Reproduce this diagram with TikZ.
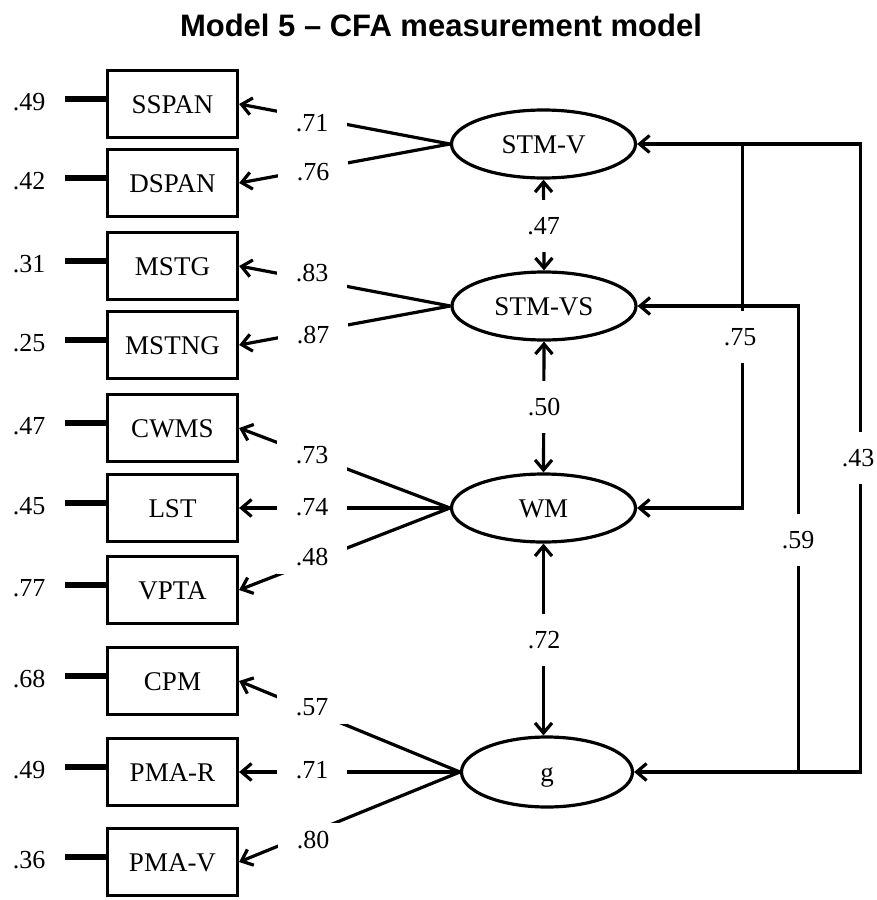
\documentclass[tikz,border=0pt]{standalone}
\usepackage{fontspec}
\setmainfont{Liberation Serif}
\newfontfamily\titlefont{Liberation Sans}
\usetikzlibrary{arrows.meta,shapes.geometric}
\begin{document}
\begin{tikzpicture}[x=1pt,y=-1pt,
  >={Straight Barb[length=10pt,width=17pt]},
  obs/.style={draw,line width=3.2pt,minimum width=130pt,minimum height=67pt,inner sep=0pt,
    font=\fontsize{27}{27}\selectfont,text height=18pt,text depth=0pt},
  lat/.style={draw,ellipse,line width=3.2pt,minimum width=184pt,minimum height=68pt,inner sep=0pt,
    font=\fontsize{27}{27}\selectfont,text height=18pt,text depth=0pt},
  num/.style={inner sep=0pt,font=\fontsize{26}{26}\selectfont,text height=17.5pt,text depth=0pt},
  lbl/.style={num,fill=white,minimum width=70pt,minimum height=34pt},
  vlbl/.style={num,fill=white,minimum width=36pt,minimum height=52pt},
  conn/.style={line width=3.2pt},
  resid/.style={line width=5.5pt}]
\useasboundingbox (0,0) rectangle (876,900);

% title
\node[font=\titlefont\bfseries\fontsize{31}{31}\selectfont,inner sep=0pt] (title) at (441,25) {Model 5 – CFA measurement model};

% observed variables with residuals
\foreach \n/\t/\y/\r in {sspan/SSPAN/104/.49, dspan/DSPAN/183/.42, mstg/MSTG/266/.31, mstng/MSTNG/345/.25,
  cwms/CWMS/428/.47, lst/LST/508/.45, vpta/VPTA/590/.77, cpm/CPM/681/.68, pmar/PMA-R/772/.49, pmav/PMA-V/862/.36} {
  \node[obs] (\n) at (172.5,\y) {\t};
  \node[num] (e-\n) at (29,\y-2) {\r};
  \draw[resid] ([yshift=5pt]\n.west) -- ++(-41,0);
}

% latent variables
\node[lat] (stmv)  at (543.5,144) {STM-V};
\node[lat] (stmvs) at (544,306) {STM-VS};
\node[lat] (wm)    at (543.5,508) {WM};
\node[lat,minimum width=171pt,minimum height=70pt] (g) at (547,772) {g};

% loadings
\draw[conn,->] (stmv.west) -- (sspan.east);
\draw[conn,->] (stmv.west) -- (dspan.east);
\draw[conn,->] (stmvs.west) -- (mstg.east);
\draw[conn,->] (stmvs.west) -- (mstng.east);
\draw[conn,->] (wm.west) -- (cwms.east);
\draw[conn,->] (wm.west) -- (lst.east);
\draw[conn,->] (wm.west) -- (vpta.east);
\draw[conn,->] (g.west) -- (cpm.east);
\draw[conn,->] (g.west) -- (pmar.east);
\draw[conn,->] (g.west) -- (pmav.east);

\node[lbl] (l1)  at (312,123) {.71};
\node[lbl] (l2)  at (313,172) {.76};
\node[lbl] (l3)  at (312,273) {.83};
\node[lbl] (l4)  at (313,335) {.87};
\node[lbl] (l5)  at (312,455) {.73};
\node[lbl] (l6)  at (312,507) {.74};
\node[lbl] (l7)  at (312,557) {.48};
\node[lbl] (l8)  at (312,707) {.57};
\node[lbl] (l9)  at (312,770) {.71};
\node[lbl] (l10) at (313,840) {.80};

% correlations between adjacent factors
\draw[conn,<->] (stmv.south) -- (stmvs.north);
\draw[conn,<->] (stmvs.south) -- (wm.north);
\draw[conn,<->] (wm.south) -- (wm.south |- g.north);
\node[vlbl] (c47) at (543.5,226) {.47};
\node[vlbl] (c50) at (544,407) {.50};
\node[vlbl] (c72) at (544,640) {.72};

% correlations on the right
\coordinate (j43) at ([xshift=223pt]stmv.east);
\coordinate (j75) at ([xshift=105pt]stmv.east);
\coordinate (j59) at ([xshift=161pt]stmvs.east);
\draw[conn,<->] (stmv.east) -- (j43) |- (g.east);
\draw[conn,->] (j75) |- (wm.east);
\draw[conn,<-] (stmvs.east) -- (j59) -- (j59 |- g.east);
\node[vlbl] (c75) at (740,337) {.75};
\node[vlbl] (c59) at (798,540) {.59};
\node[vlbl] (c43) at (858,458) {.43};
\end{tikzpicture}
\end{document}
